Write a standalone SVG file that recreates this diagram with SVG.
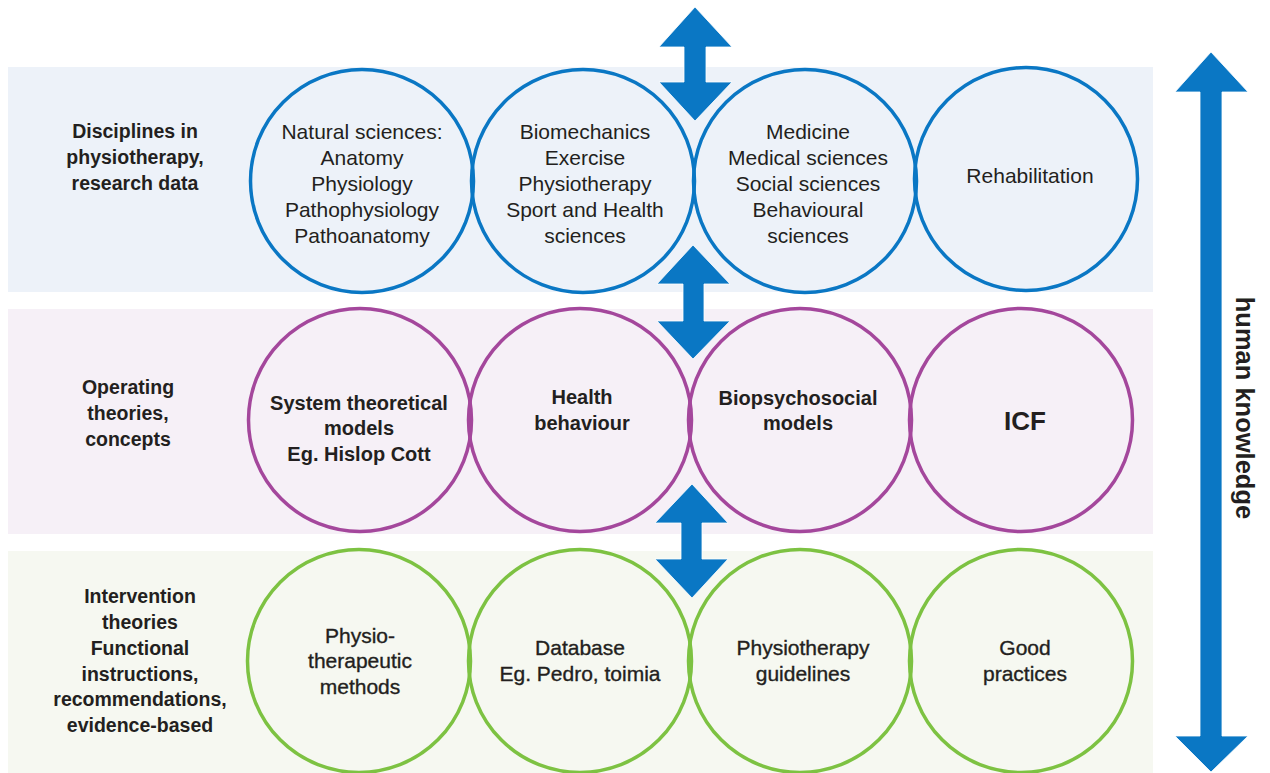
<svg xmlns="http://www.w3.org/2000/svg" width="1270" height="773" viewBox="0 0 1270 773">
<style>
.b1{fill:#edf2f9}.b2{fill:#f6f0f7}.b3{fill:#f6f8f1}
.cb{fill:none;stroke:#0a77c4;stroke-width:3.5}
.cp{fill:none;stroke:#a4479c;stroke-width:3.5}
.cg{fill:none;stroke:#7dc242;stroke-width:3.5}
text{font-family:"Liberation Sans",Arial,sans-serif;fill:#231f20;text-anchor:middle}
.lab{font-size:19.5px;font-weight:bold}
.reg{font-size:21px}
.med{font-size:21px;stroke:#231f20;stroke-width:0.35}
.bold{font-size:20px;font-weight:bold}
.arr{fill:#0a77c4;stroke:#ffffff;stroke-width:0.8}
</style>
<g id="bands">
<rect class="b1" x="8" y="67" width="1145" height="225"/>
<rect class="b2" x="8" y="309" width="1145" height="225"/>
<rect class="b3" x="8" y="551" width="1145" height="222"/>
</g>
<g id="label-disciplines">
<text class="lab" x="135" y="138">Disciplines in</text>
<text class="lab" x="135" y="164">physiotherapy,</text>
<text class="lab" x="135" y="190">research data</text>
</g>
<g id="label-operating">
<text class="lab" x="128" y="394">Operating</text>
<text class="lab" x="128" y="420">theories,</text>
<text class="lab" x="128" y="446">concepts</text>
</g>
<g id="label-intervention">
<text class="lab" x="140" y="603">Intervention</text>
<text class="lab" x="140" y="629">theories</text>
<text class="lab" x="140" y="655">Functional</text>
<text class="lab" x="140" y="681">instructions,</text>
<text class="lab" x="140" y="706">recommendations,</text>
<text class="lab" x="140" y="732">evidence-based</text>
</g>
<g id="natural-sciences">
<circle class="cb" cx="362" cy="181" r="111.5"/>
<text class="reg" x="362" y="139">Natural sciences:</text>
<text class="reg" x="362" y="165">Anatomy</text>
<text class="reg" x="362" y="191">Physiology</text>
<text class="reg" x="362" y="217">Pathophysiology</text>
<text class="reg" x="362" y="243">Pathoanatomy</text>
</g>
<g id="biomechanics">
<circle class="cb" cx="583" cy="181" r="111.5"/>
<text class="reg" x="585" y="139">Biomechanics</text>
<text class="reg" x="585" y="165">Exercise</text>
<text class="reg" x="585" y="191">Physiotherapy</text>
<text class="reg" x="585" y="217">Sport and Health</text>
<text class="reg" x="585" y="243">sciences</text>
</g>
<g id="medicine">
<circle class="cb" cx="805" cy="181" r="111.5"/>
<text class="reg" x="808" y="139">Medicine</text>
<text class="reg" x="808" y="165">Medical sciences</text>
<text class="reg" x="808" y="191">Social sciences</text>
<text class="reg" x="808" y="217">Behavioural</text>
<text class="reg" x="808" y="243">sciences</text>
</g>
<g id="rehabilitation">
<circle class="cb" cx="1026" cy="179" r="111.5"/>
<text class="reg" x="1030" y="183">Rehabilitation</text>
</g>
<g id="system-theoretical">
<circle class="cp" cx="360" cy="420" r="111.5"/>
<text class="bold" x="359" y="410">System theoretical</text>
<text class="bold" x="359" y="435">models</text>
<text class="bold" x="359" y="461">Eg. Hislop Cott</text>
</g>
<g id="health-behaviour">
<circle class="cp" cx="580" cy="420" r="111.5"/>
<text class="bold" x="582" y="404">Health</text>
<text class="bold" x="582" y="430">behaviour</text>
</g>
<g id="biopsychosocial">
<circle class="cp" cx="800" cy="420" r="111.5"/>
<text class="bold" x="798" y="405">Biopsychosocial</text>
<text class="bold" x="798" y="430">models</text>
</g>
<g id="icf">
<circle class="cp" cx="1021" cy="420" r="111.5"/>
<text x="1025" y="430" style="font-size:26px;font-weight:bold">ICF</text>
</g>
<g id="physiotherapeutic-methods">
<circle class="cg" cx="359" cy="661" r="111.5"/>
<text class="med" x="360" y="643">Physio-</text>
<text class="med" x="360" y="668">therapeutic</text>
<text class="med" x="360" y="694">methods</text>
</g>
<g id="database">
<circle class="cg" cx="580" cy="661" r="111.5"/>
<text class="med" x="580" y="655">Database</text>
<text class="med" x="580" y="681">Eg. Pedro, toimia</text>
</g>
<g id="guidelines">
<circle class="cg" cx="800" cy="661" r="111.5"/>
<text class="med" x="803" y="655">Physiotherapy</text>
<text class="med" x="803" y="681">guidelines</text>
</g>
<g id="good-practices">
<circle class="cg" cx="1021" cy="661" r="111.5"/>
<text class="med" x="1025" y="655">Good</text>
<text class="med" x="1025" y="681">practices</text>
</g>
<g id="connectors">
<polygon class="arr" points="695,7 732,47 706,47 706,82 732,82 695,121 659,82 684,82 684,47 659,47"/>
<polygon class="arr" points="693,245 730,284 704,284 704,321 730,321 693,359 657,321 683,321 683,284 657,284"/>
<polygon class="arr" points="692,484 728,523 702,523 702,559 728,559 692,598 655,559 681,559 681,523 655,523"/>
<polygon class="arr" points="1211,52 1248,92 1222,92 1222,736 1248,736 1211,772 1175,736 1200,736 1200,92 1175,92"/>
</g>
<g id="human-knowledge">
<text x="1236" y="408" transform="rotate(90 1236 408)" style="font-size:25.5px;font-weight:bold">human knowledge</text>
</g>
</svg>
